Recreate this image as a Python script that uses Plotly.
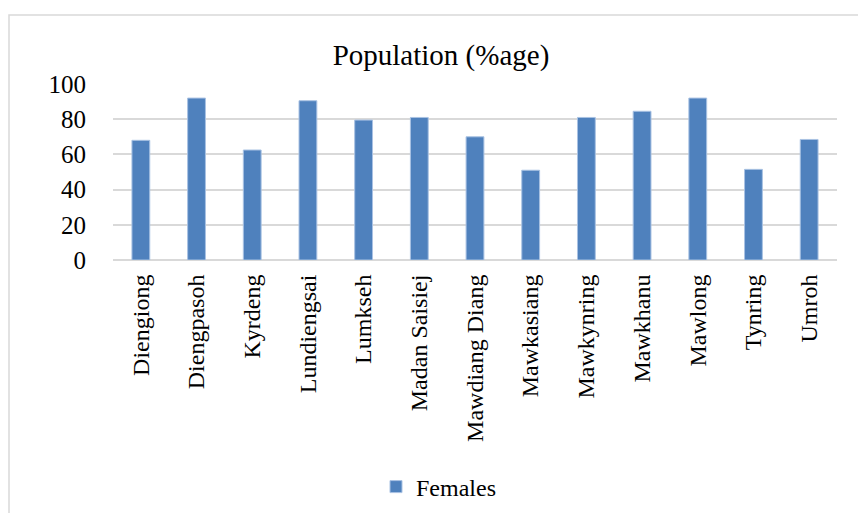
import plotly.graph_objects as go

villages = ["Diengiong", "Diengpasoh", "Kyrdeng", "Lundiengsai", "Lumkseh",
            "Madan Saisiej", "Mawdiang Diang", "Mawkasiang", "Mawkynring",
            "Mawkhanu", "Mawlong", "Tynring", "Umroh"]
females = [68, 92, 62.5, 90.5, 79.5, 81, 70, 51, 81, 84.5, 92, 51.5, 68.5]
y_ticks = [0, 20, 40, 60, 80, 100]

FONT = "Liberation Serif, Times New Roman, serif"

fig = go.Figure()
fig.add_trace(go.Bar(
    x=villages, y=females, name="Females",
    marker=dict(color="#4f81bd", line=dict(color="#a9c2e3", width=1)),
    showlegend=True,
))

fig.update_layout(
    width=858, height=513,
    margin=dict(l=113, r=21, t=84, b=253),
    paper_bgcolor="white", plot_bgcolor="white",
    font=dict(family=FONT, color="#000000"),
    title=dict(text="Population (%age)", font=dict(size=29, family=FONT, color="#000000"),
               x=441/858, xref="container", xanchor="center",
               y=1-55/513, yref="container", yanchor="middle"),
    bargap=0.68,
    showlegend=True,
    legend=dict(orientation="h", x=376/858, xanchor="left", xref="container",
                y=1-487/513, yref="container", yanchor="middle",
                font=dict(size=24, family=FONT, color="#000000"),
                itemwidth=30),
    xaxis=dict(tickangle=-90, tickfont=dict(size=24, family=FONT, color="#000000"),
               showgrid=False, showline=False, ticks="outside", ticklen=4,
               tickcolor="rgba(0,0,0,0)", zeroline=False),
    yaxis=dict(range=[0, 100], tickvals=y_ticks,
               tickfont=dict(size=25, family=FONT, color="#000000"),
               showgrid=True, gridcolor="#d9d9d9", gridwidth=1.5,
               zeroline=True, zerolinecolor="#d9d9d9", zerolinewidth=1.5,
               ticks="outside", ticklen=21, tickcolor="rgba(0,0,0,0)",
               showline=False),
    shapes=[dict(type="rect", xref="paper", yref="paper",
                 x0=(9-113)/724, x1=1.3, y0=-2.0, y1=(260-15)/176,
                 line=dict(color="#d9d9d9", width=1.5), fillcolor="rgba(0,0,0,0)",
                 layer="below")],
)

fig.write_html("out.html", config={"displayModeBar": False},
               post_script="document.body.style.margin='0';")
